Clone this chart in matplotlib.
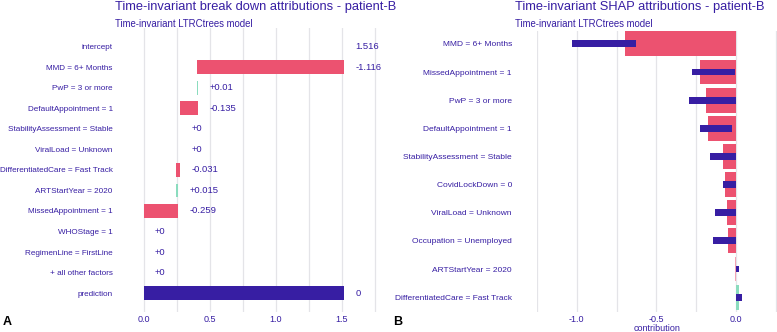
import numpy as np
import matplotlib
matplotlib.use("Agg")
import matplotlib.pyplot as plt

plt.rcParams['font.family'] = ['Liberation Sans', 'DejaVu Sans']

PURPLE = '#371ea3'
RED = '#ec5270'
GREEN = '#8bdcbe'
GRID = '#e4e4e8'

# break down panel (A)
bd_labels = ['intercept', 'MMD = 6+ Months', 'PwP = 3 or more', 'DefaultAppointment = 1',
             'StabilityAssessment = Stable', 'ViralLoad = Unknown',
             'DifferentiatedCare = Fast Track', 'ARTStartYear = 2020',
             'MissedAppointment = 1', 'WHOStage = 1', 'RegimenLine = FirstLine',
             '+ all other factors', 'prediction']
bd_values = [1.516, -1.116, 0.01, -0.135, 0.0, 0.0, -0.031, 0.015, -0.259, 0.0, 0.0, 0.0, 1.516]
bd_texts = ['1.516', '-1.116', '+0.01', '-0.135', '+0', '+0', '-0.031', '+0.015',
            '-0.259', '+0', '+0', '+0', '0']
bd_ticks = [0.0, 0.5, 1.0, 1.5]

# SHAP panel (B)
shap_labels = ['MMD = 6+ Months', 'MissedAppointment = 1', 'PwP = 3 or more',
               'DefaultAppointment = 1', 'StabilityAssessment = Stable', 'CovidLockDown = 0',
               'ViralLoad = Unknown', 'Occupation = Unemployed', 'ARTStartYear = 2020',
               'DifferentiatedCare = Fast Track']
shap_mean = [-0.70, -0.225, -0.187, -0.175, -0.08, -0.07, -0.055, -0.053, -0.01, 0.015]
shap_low = [-1.03, -0.275, -0.295, -0.23, -0.165, -0.08, -0.13, -0.145, 0.0, 0.0]
shap_high = [-0.63, -0.005, 0.0, -0.025, 0.0, 0.0, 0.0, 0.0, 0.015, 0.035]
shap_ticks = [-1.0, -0.5, 0.0]

fig = plt.figure(figsize=(7.77, 3.32), dpi=100)

# ---- panel A
ax = fig.add_axes([0.180, 0.060, 0.316, 0.856])
n = len(bd_labels)
y = np.arange(n)
cum = 0.0
for i in range(n):
    v = bd_values[i]
    if i == 0:
        cum = v
        color = PURPLE
        lo, hi = v, v
    elif i == n - 1:
        lo, hi = 0.0, v
        color = PURPLE
    else:
        start = cum
        cum = cum + v
        lo, hi = min(start, cum), max(start, cum)
        color = RED if v < 0 else GREEN
    if hi > lo:
        ax.barh(y[i], hi - lo, left=lo, height=0.68, color=color, zorder=2)
    ax.text(hi + 0.085, y[i], bd_texts[i], ha='left', va='center',
            fontsize=6.8, color=PURPLE, zorder=3)

ax.set_xlim(-0.03, 1.83)
ax.set_ylim(n - 0.07, -0.93)
ax.set_xticks(bd_ticks)
ax.set_xticklabels([f'{t:.1f}' for t in bd_ticks])
ax.set_xticks(np.arange(0, 1.9, 0.25), minor=True)
ax.set_yticks(y)
ax.set_yticklabels(bd_labels)
ax.grid(axis='x', which='both', color=GRID, linewidth=0.9, zorder=0)
ax.set_axisbelow(True)
for s in ax.spines.values():
    s.set_visible(False)
ax.tick_params(axis='both', length=0, labelsize=5.9, colors=PURPLE, pad=2)
ax.tick_params(axis='x', labelsize=6.5)
ax.tick_params(axis='x', which='minor', length=0)
ax.tick_params(axis='y', pad=19.5)

fig.text(0.148, 0.997, 'Time-invariant break down attributions - patient-B',
         fontsize=9.3, color=PURPLE, ha='left', va='top')
fig.text(0.148, 0.943, 'Time-invariant LTRCtrees model',
         fontsize=6.9, color=PURPLE, ha='left', va='top')
fig.text(0.004, 0.03, 'A', fontsize=9, fontweight='bold', color='black', ha='left', va='center')

# ---- panel B
bx = fig.add_axes([0.691, 0.060, 0.309, 0.846])
m = len(shap_labels)
y2 = np.arange(m)
for i in range(m):
    v = shap_mean[i]
    if v < 0:
        c = RED if abs(v) > 0.02 else '#f4a3b4'
    else:
        c = GREEN
    bx.barh(y2[i], v, left=0, height=0.88, color=c, zorder=2)
    bx.barh(y2[i], shap_high[i] - shap_low[i], left=shap_low[i], height=0.24,
            color=PURPLE, zorder=3)

bx.set_xlim(-1.244, 0.256)
bx.set_ylim(m - 0.47, -0.45)
bx.set_xticks(shap_ticks)
bx.set_xticklabels([f'{t:.1f}' for t in shap_ticks])
bx.set_xticks(np.arange(-1.25, 0.26, 0.25), minor=True)
bx.set_yticks(y2)
bx.set_yticklabels(shap_labels)
bx.grid(axis='x', which='both', color=GRID, linewidth=0.9, zorder=0)
bx.set_axisbelow(True)
for s in bx.spines.values():
    s.set_visible(False)
bx.tick_params(axis='both', length=0, labelsize=6.0, colors=PURPLE, pad=2)
bx.tick_params(axis='x', labelsize=6.5)
bx.tick_params(axis='x', which='minor', length=0)
bx.tick_params(axis='y', pad=18)
bx.set_xlabel('contribution', fontsize=6.5, color=PURPLE, labelpad=0)

fig.text(0.663, 0.997, 'Time-invariant SHAP attributions - patient-B',
         fontsize=9.3, color=PURPLE, ha='left', va='top')
fig.text(0.663, 0.943, 'Time-invariant LTRCtrees model',
         fontsize=6.9, color=PURPLE, ha='left', va='top')
fig.text(0.506, 0.03, 'B', fontsize=9, fontweight='bold', color='black', ha='left', va='center')

fig.savefig('out.png', dpi=100, facecolor='white')
